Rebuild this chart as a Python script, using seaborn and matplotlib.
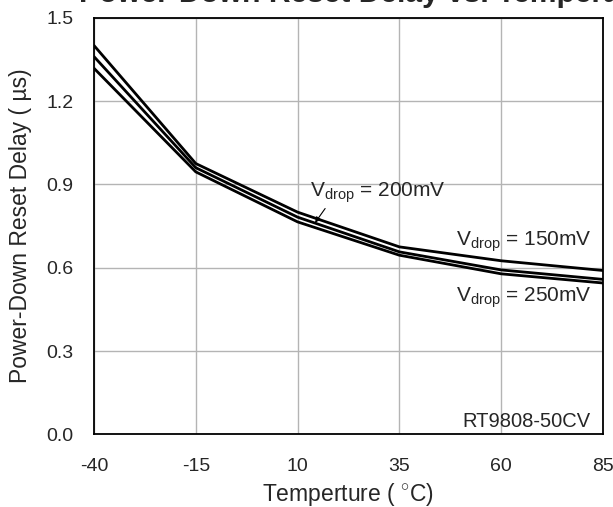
import matplotlib
matplotlib.use("Agg")
import matplotlib.pyplot as plt
import pandas as pd
import seaborn as sns

temps = [-40, -15, 10, 35, 60, 85]
delay_150mv = [1.400, 0.975, 0.800, 0.675, 0.625, 0.590]
delay_200mv = [1.360, 0.960, 0.782, 0.657, 0.592, 0.558]
delay_250mv = [1.318, 0.945, 0.765, 0.645, 0.578, 0.545]
series_names = ["150mV", "200mV", "250mV"]
y_ticks = [0.0, 0.3, 0.6, 0.9, 1.2, 1.5]

sns.set_style("white")
plt.rcParams["font.family"] = ["Liberation Sans", "DejaVu Sans"]
plt.rcParams["mathtext.fontset"] = "custom"
plt.rcParams["mathtext.rm"] = "Liberation Sans"
plt.rcParams["mathtext.it"] = "Liberation Sans"
plt.rcParams["axes.unicode_minus"] = False

df = pd.DataFrame({
    "temp": temps * 3,
    "delay": delay_150mv + delay_200mv + delay_250mv,
    "vdrop": [n for n in series_names for _ in temps],
})

fig = plt.figure(figsize=(6.13, 5.07), dpi=100)
ax = fig.add_axes([0.1533, 0.1432, 0.8304, 0.8219])

sns.lineplot(ax=ax, data=df, x="temp", y="delay", hue="vdrop",
             palette=["black"] * 3, linewidth=2, legend=False)

ax.set_xlim(-40, 85)
ax.set_ylim(0, 1.5)
ax.set_xticks(temps)
ax.set_yticks(y_ticks)
ax.set_yticklabels([f"{v:.1f}" for v in y_ticks])
ax.grid(True, color="#b4b4b4", linewidth=1)
ax.tick_params(axis="x", length=0, pad=17, labelsize=14)
ax.tick_params(axis="y", length=0, pad=15, labelsize=14)
for s in ax.spines.values():
    s.set_color("black")
    s.set_linewidth(1.3)

ax.set_xlabel("Temperture ( $^{\\circ}$C)", fontsize=16.5, labelpad=4)
ax.set_ylabel("Power-Down Reset Delay ( \u00b5s)", fontsize=16.5, labelpad=10)

# title sits mostly above the canvas, as in the source image
fig.text(378 / 613, 1 - 2.0 / 507, "Power-Down Reset Delay vs. Temperature",
         fontsize=21.6, fontweight="bold", ha="center", va="baseline")

ax.annotate("V$_{\\mathrm{drop}}$ = 200mV", xy=(14.3, 0.762),
            xytext=(13.0, 0.869), fontsize=15, va="center", ha="left",
            arrowprops=dict(arrowstyle="-|>", color="black", lw=0.8,
                            mutation_scale=8, shrinkA=0, shrinkB=0,
                            relpos=(0.13, 0.0)),
            annotation_clip=False)
ax.text(82.3, 0.693, "V$_{\\mathrm{drop}}$ = 150mV", fontsize=15, ha="right", va="center")
ax.text(82.3, 0.491, "V$_{\\mathrm{drop}}$ = 250mV", fontsize=15, ha="right", va="center")
ax.text(82.0, 0.046, "RT9808-50CV", fontsize=14.5, ha="right", va="center")

fig.savefig("out.png", dpi=100)
